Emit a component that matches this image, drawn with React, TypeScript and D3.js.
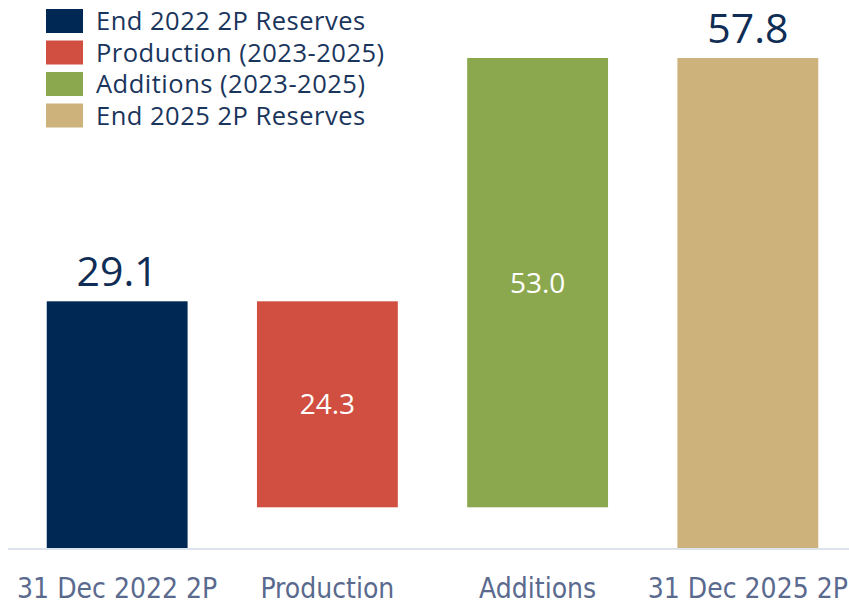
import React from "react";
import * as d3 from "d3";

const categories = ["31 Dec 2022 2P", "Production", "Additions", "31 Dec 2025 2P"];
const starts = [0, 29.1, 4.8, 0];
const ends = [29.1, 4.8, 57.8, 57.8];
const valueLabels = ["29.1", "24.3", "53.0", "57.8"];
const labelInside = [false, true, true, false];
const colors = ["#002855", "#D04F41", "#8BA84E", "#CDB27B"];
const legendLabels = [
  "End 2022 2P Reserves",
  "Production (2023-2025)",
  "Additions (2023-2025)",
  "End 2025 2P Reserves",
];

const W = 849;
const H = 604;

export default function App() {
  const x = d3.scaleBand<string>().domain(categories).range([11, 854]).paddingInner(0.33).paddingOuter(0.17);
  const y = d3.scaleLinear().domain([0, 57.8]).range([548, 58]);
  const navy = "#0f2d55";
  return (
    <svg width={W} height={H} style={{ position: "absolute", left: 0, top: 0, background: "#fff" }}>
      <line x1={8} x2={849} y1={y(0) + 1} y2={y(0) + 1} stroke="#dfe4ec" strokeWidth={2} />
      {categories.map((c, i) => {
        const top = y(Math.max(starts[i], ends[i]));
        const bot = y(Math.min(starts[i], ends[i]));
        const cx = (x(c) as number) + x.bandwidth() / 2;
        return (
          <g key={c}>
            <rect x={x(c)} y={top} width={x.bandwidth()} height={bot - top} fill={colors[i]} />
            {labelInside[i] ? (
              <text x={cx} y={(top + bot) / 2 + 10} textAnchor="middle" fill="#fff"
                style={{ fontFamily: "'Open Sans'", fontSize: 28 }}>{valueLabels[i]}</text>
            ) : (
              <text x={cx} y={top - 15} textAnchor="middle" fill={navy}
                style={{ fontFamily: "'Open Sans'", fontSize: 41 }}>{valueLabels[i]}</text>
            )}
            <text x={cx} y={598} textAnchor="middle" fill="#5a6a8e"
              style={{ fontFamily: "'DejaVu Sans Condensed', 'DejaVu Sans'", fontStretch: "condensed", fontSize: 28 }}>{c}</text>
          </g>
        );
      })}
      {legendLabels.map((l, i) => {
        const cy = 21 + i * 31.5;
        return (
          <g key={l}>
            <rect x={46} y={cy - 12} width={37} height={24} fill={colors[i]} />
            <text x={96} y={cy + 9} fill="#1a355c"
              style={{ fontFamily: "'Open Sans'", fontSize: 25.5, letterSpacing: 0.5 }}>{l}</text>
          </g>
        );
      })}
    </svg>
  );
}
